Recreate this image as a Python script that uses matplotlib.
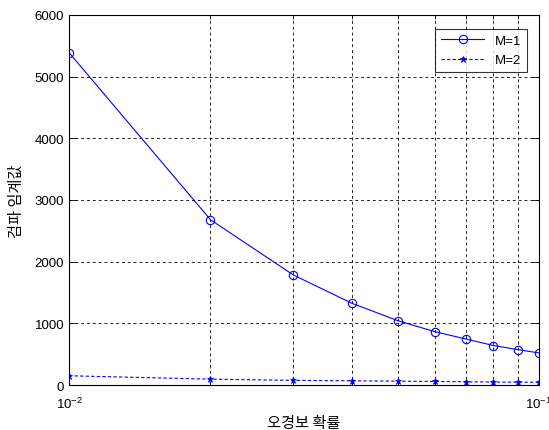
import numpy as np
import matplotlib.pyplot as plt
from matplotlib.ticker import LogLocator, NullFormatter

plt.rcParams['font.family'] = ['Liberation Sans', 'Noto Sans CJK KR']
plt.rcParams['mathtext.fontset'] = 'custom'
plt.rcParams['mathtext.rm'] = 'Liberation Sans'
plt.rcParams['mathtext.it'] = 'Liberation Sans'

# 오경보 확률 (false alarm probability)
pfa = [0.01, 0.02, 0.03, 0.04, 0.05, 0.06, 0.07, 0.08, 0.09, 0.1]
# 검파 임계값 (detection threshold)
thr_m1 = [5390, 2680, 1785, 1325, 1045, 865, 745, 640, 575, 520]
thr_m2 = [150, 95, 75, 68, 62, 58, 52, 48, 46, 44]

fig = plt.figure(figsize=(5.49, 4.31), dpi=100)
ax = fig.add_axes([0.1257, 0.1044, 0.8561, 0.8585])

ax.plot(pfa, thr_m1, color='blue', lw=0.8, marker='o', ms=6,
        mfc='none', mec='blue', mew=0.8, label='M=1')
ax.plot(pfa, thr_m2, color='blue', lw=0.8, ls=(0, (3, 2)), marker='*', ms=5,
        mfc='blue', mec='blue', mew=0.6, label='M=2')

ax.set_xscale('log')
ax.set_xlim(0.01, 0.1)
ax.set_ylim(0, 6000)
ax.set_yticks([0, 1000, 2000, 3000, 4000, 5000, 6000])
ax.xaxis.set_minor_locator(LogLocator(base=10, subs=np.arange(2, 10)))
ax.xaxis.set_minor_formatter(NullFormatter())

ax.tick_params(which='both', direction='in', top=True, right=True,
               labelsize=9.5, color='black', width=0.6)
ax.tick_params(which='major', length=5)
ax.tick_params(which='minor', length=3)
ax.tick_params(axis='x', pad=8)

gs = dict(color='#222222', lw=0.7, ls=(0, (3, 3)))
ax.grid(True, which='major', axis='y', **gs)
ax.grid(True, which='minor', axis='x', **gs)

for s in ax.spines.values():
    s.set_linewidth(0.8)

ax.set_xlabel('오경보 확률', fontsize=11, family=['Noto Sans CJK KR'], labelpad=2)
ax.set_ylabel('검파 임계값', fontsize=11, family=['Noto Sans CJK KR'], labelpad=7)

leg = ax.legend(loc='upper right', fancybox=False, edgecolor='black',
                fontsize=9.5, handlelength=3.3, borderpad=0.45, labelspacing=0.55,
                bbox_to_anchor=(0.989, 0.981))
leg.get_frame().set_linewidth(0.8)

fig.savefig('out.png', dpi=100)
